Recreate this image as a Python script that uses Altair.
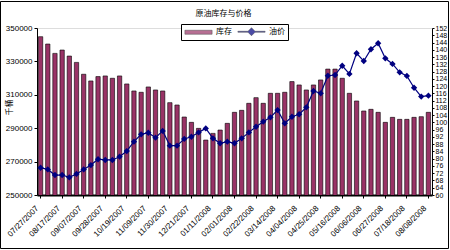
import altair as alt
import pandas as pd

# ---- data ----
weeks = pd.date_range("2007-07-27", periods=55, freq="7D").strftime("%m/%d/%Y").tolist()
tick_labels = weeks[::3]

stocks = [344800, 340400, 334800, 336800, 333200, 329400, 322300, 318300, 320900, 321300,
          319900, 321300, 316500, 312300, 311500, 314700, 312900, 312300, 305300, 303900,
          296700, 293500, 289900, 282900, 286900, 288900, 292900, 299500, 300700, 304900,
          308300, 304900, 310900, 310900, 311500, 317900, 315900, 312900, 315900, 318900,
          325400, 325400, 319900, 310900, 306300, 300300, 301300, 299500, 293500, 296500,
          295300, 295300, 296500, 296900, 299500]

prices = [75.0, 74.1, 71.0, 71.0, 69.7, 71.6, 74.1, 76.5, 79.7, 79.3,
          79.3, 81.1, 84.2, 89.4, 93.4, 94.3, 91.6, 95.3, 87.2, 87.2,
          90.9, 92.1, 94.5, 96.7, 91.2, 88.5, 89.4, 88.5, 91.2, 94.5,
          97.6, 100.4, 102.8, 106.8, 99.5, 103.1, 104.5, 108.3, 117.3, 116.0,
          125.7, 126.1, 131.2, 126.7, 138.1, 133.8, 140.3, 143.6, 135.3, 132.2,
          127.6, 125.6, 119.1, 114.2, 114.7]

left_ticks = [250000, 270000, 290000, 310000, 330000, 350000]
right_ticks = list(range(60, 153, 4))
series_names = ["库存", "油价"]
series_colors = ["#993366", "#000080"]

bars_df = pd.DataFrame({"week": weeks, "value": stocks})
line_df = pd.DataFrame({"week": weeks, "value": prices})
legend_df = pd.DataFrame({"series": series_names})

NUM_FONT = "Liberation Sans"
CJK_FONT = "Noto Sans CJK SC"

# legend symbols drawn to the right of the layout slot (unit = 4 px)
BAR_PATH = "M-0.9,-0.5H5.9V0.5H-0.9Z"
LINE_PATH = ("M-0.9,-0.12H1.62L2.5,-1L3.38,-0.12H5.9V0.12H3.38L2.5,1L1.62,0.12H-0.9Z")

legend = alt.Legend(
    title=None, orient="none", legendX=144, legendY=-4, direction="horizontal",
    fillColor="white", strokeColor="black", padding=3,
    symbolSize=64, labelOffset=23, columnPadding=4,
    symbolStrokeColor="black", symbolStrokeWidth=0.5,
    labelFont=CJK_FONT, labelFontSize=8, labelColor="black",
)

x_axis = alt.Axis(values=tick_labels, labelAngle=-45, labelAlign="right", labelBaseline="middle",
                  labelFont=NUM_FONT, labelFontSize=8, labelPadding=9, labelOffset=-3,
                  labelColor="black", labelOverlap=False, tickSize=3, tickColor="black",
                  domainColor="black", domainWidth=2, title=None)
x_scale = alt.Scale(type="band", paddingInner=0.4, paddingOuter=0.2)

bars = alt.Chart(bars_df).mark_bar(stroke="black", strokeWidth=0.6, color=series_colors[0],
                                   clip=True).encode(
    x=alt.X("week:O", sort=None, scale=x_scale, axis=x_axis),
    y=alt.Y("value:Q",
            scale=alt.Scale(domain=[250000, 350000], nice=False, zero=False),
            axis=alt.Axis(values=left_ticks, format="d", grid=False, orient="left",
                          labelFont=NUM_FONT, labelFontSize=8, labelColor="black",
                          tickSize=3, tickColor="black", domainColor="black",
                          title="千桶", titleFont=CJK_FONT, titleFontSize=8,
                          titleFontWeight="normal", titleColor="black",
                          titleX=-28, titleY=79, titleAngle=-90, titleBaseline="middle",
                          titleAlign="center")),
)

line = alt.Chart(line_df).mark_line(
    strokeWidth=1.2, color=series_colors[1],
    point=alt.OverlayMarkDef(shape="diamond", filled=True, size=40, color=series_colors[1]),
).encode(
    x=alt.X("week:O", sort=None, scale=x_scale, axis=x_axis),
    y=alt.Y("value:Q",
            scale=alt.Scale(domain=[60, 152], nice=False, zero=False),
            axis=alt.Axis(values=right_ticks, orient="right", grid=False,
                          labelFont=NUM_FONT, labelFontSize=7, labelColor="black",
                          labelOverlap=False, labelPadding=1,
                          tickSize=2, tickColor="black", domainColor="black", title=None)),
)

legend_layer = alt.Chart(legend_df).mark_point(filled=True, size=0).encode(
    color=alt.Color("series:N", scale=alt.Scale(domain=series_names, range=series_colors),
                    legend=legend),
    shape=alt.Shape("series:N", scale=alt.Scale(domain=series_names, range=[BAR_PATH, LINE_PATH]),
                    legend=legend),
)

frame = alt.Chart(pd.DataFrame({"f": [0]})).mark_rect(
    filled=False, stroke="black", strokeWidth=1
).encode(
    x=alt.value(-36.5), x2=alt.value(411.5), y=alt.value(-26.5), y2=alt.value(220.5)
)

chart = alt.layer(bars, line, legend_layer, frame).resolve_scale(y="independent").properties(
    width=395, height=167,
    autosize=alt.AutoSizeParams(type="none"),
    padding={"left": 37, "top": 28, "right": 18, "bottom": 55},
    title=alt.TitleParams("原油库存与价格", font=CJK_FONT, fontSize=8, fontWeight="normal",
                          color="black", offset=0, dy=17, dx=-11, anchor="middle"),
).configure_view(
    fill="#C0C0C0", stroke="#808080", strokeWidth=1.5
).configure(background="white")

chart.save("out.html", embed_options={"renderer": "svg", "actions": False})
